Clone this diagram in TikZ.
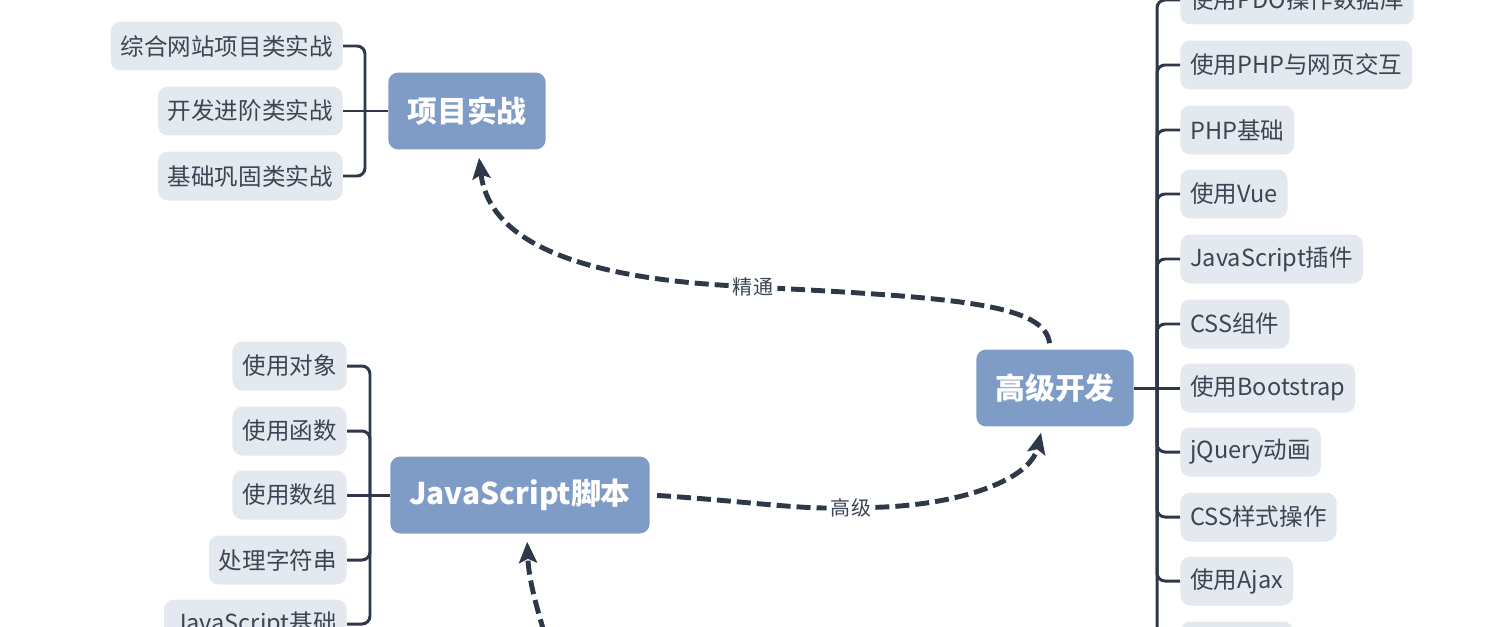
\documentclass[tikz,border=0pt]{standalone}
\usepackage{fontspec}
\setmainfont{Noto Sans CJK SC}
\usetikzlibrary{arrows.meta}
\definecolor{topicblue}{HTML}{7F9CC7}
\definecolor{leafgray}{HTML}{E4E9F0}
\definecolor{linedark}{HTML}{2E3849}
\definecolor{textdark}{HTML}{3C4553}

\begin{document}
\begin{tikzpicture}[x=0.02cm, y=-0.02cm,
    topic/.style={rectangle, rounded corners=0.2cm, fill=topicblue, text=white, font=\fontsize{17}{20}\selectfont\bfseries, inner xsep=0.38cm, minimum height=1.54cm},
    leaf/.style={rectangle, rounded corners=0.2cm, fill=leafgray, text=textdark, font=\fontsize{13.4}{16}\selectfont, inner xsep=0.2cm, minimum height=0.98cm},
    tag/.style={fill=white, text=textdark, font=\fontsize{11.4}{13}\selectfont, inner xsep=0.08cm, inner ysep=0.02cm},
    branch/.style={draw=linedark, line width=1.7pt, rounded corners=0.16cm},
    flow/.style={draw=linedark, line width=2.8pt, dash pattern=on 0.28cm off 0.12cm},
    tip/.style={-{Stealth[length=0.42cm, width=0.36cm, inset=0.08cm]}}]
    \useasboundingbox (0,0) rectangle (1512,626);
    \clip (0,0) rectangle (1512,626);

    % topics
    \node[topic] (xmsz) at (467,111){项目实战};
    \node[topic] (jsjb) at (520,495){JavaScript脚本};
    \node[topic] (gjkf) at (1055,388){高级开发};

    % leaves of 项目实战
    \node[leaf, anchor=east] (zhwz) at (343,46){综合网站项目类实战};
    \node[leaf, anchor=east] (kfjj) at (343,111){开发进阶类实战};
    \node[leaf, anchor=east] (jcgg) at (343,176){基础巩固类实战};

    % leaves of JavaScript脚本
    \node[leaf, anchor=east] (sydx) at (347,366){使用对象};
    \node[leaf, anchor=east] (syhs) at (347,431){使用函数};
    \node[leaf, anchor=east] (sysz) at (347,495){使用数组};
    \node[leaf, anchor=east] (clzf) at (347,560){处理字符串};
    \node[leaf, anchor=east] (jsjc) at (347,624){JavaScript基础};

    % leaves of 高级开发
    \node[leaf, anchor=west] (pdo) at (1180,0){使用PDO操作数据库};
    \node[leaf, anchor=west] (phpjh) at (1180,65){使用PHP与网页交互};
    \node[leaf, anchor=west] (phpjc) at (1180,130){PHP基础};
    \node[leaf, anchor=west] (vue) at (1180,194){使用Vue};
    \node[leaf, anchor=west] (jscj) at (1180,259){JavaScript插件};
    \node[leaf, anchor=west] (csszj) at (1180,324){CSS组件};
    \node[leaf, anchor=west] (bootstrap) at (1180,388){使用Bootstrap};
    \node[leaf, anchor=west] (jqdh) at (1180,452){jQuery动画};
    \node[leaf, anchor=west] (cssys) at (1180,517){CSS样式操作};
    \node[leaf, anchor=west] (ajax) at (1180,581){使用Ajax};
    \node[leaf, anchor=west, minimum width=2.26cm] (more) at (1180,646){};

    % branches
    \coordinate (xmszj) at (365,111);
    \draw[branch] (xmsz.west) -- (xmszj);
    \draw[branch] (xmszj) |- (zhwz.east);
    \draw[branch] (xmszj) -- (kfjj.east);
    \draw[branch] (xmszj) |- (jcgg.east);

    \coordinate (jsjbj) at (370,495);
    \draw[branch] (jsjb.west) -- (jsjbj);
    \draw[branch] (jsjbj) |- (sydx.east);
    \draw[branch] (jsjbj) |- (syhs.east);
    \draw[branch] (jsjbj) -- (sysz.east);
    \draw[branch] (jsjbj) |- (clzf.east);
    \draw[branch] (jsjbj) |- (jsjc.east);

    \coordinate (gjkfj) at (1157,388);
    \draw[branch] (gjkf.east) -- (bootstrap.west);
    \draw[branch] (gjkfj) |- (pdo.west);
    \draw[branch] (gjkfj) |- (phpjh.west);
    \draw[branch] (gjkfj) |- (phpjc.west);
    \draw[branch] (gjkfj) |- (vue.west);
    \draw[branch] (gjkfj) |- (jscj.west);
    \draw[branch] (gjkfj) |- (csszj.west);
    \draw[branch] (gjkfj) |- (jqdh.west);
    \draw[branch] (gjkfj) |- (cssys.west);
    \draw[branch] (gjkfj) |- (ajax.west);
    \draw[branch] (gjkfj) |- (more.west);

    % dashed links
    \node[tag] (jt) at (753,287){精通};
    \node[tag] (gj) at (851,508){高级};
    \coordinate (jsjbsrc) at (562,690);

    \draw[flow, shorten <=0.12cm] (gjkf.97) .. controls (1045,305) and (960,298) .. (jt);
    \draw[flow, tip, shorten >=0.16cm] (jt) .. controls (600,278) and (490,250) .. (xmsz.-74);
    \draw[flow, shorten <=0.14cm] (jsjb.east) .. controls (730,500) and (790,508) .. (gj);
    \draw[flow, tip, shorten >=0.12cm] (gj) .. controls (960,505) and (1030,480) .. (gjkf.-108);
    \draw[flow, tip, shorten >=0.16cm] (jsjbsrc) .. controls (540,620) and (529,585) .. (jsjb.-80);
\end{tikzpicture}
\end{document}
